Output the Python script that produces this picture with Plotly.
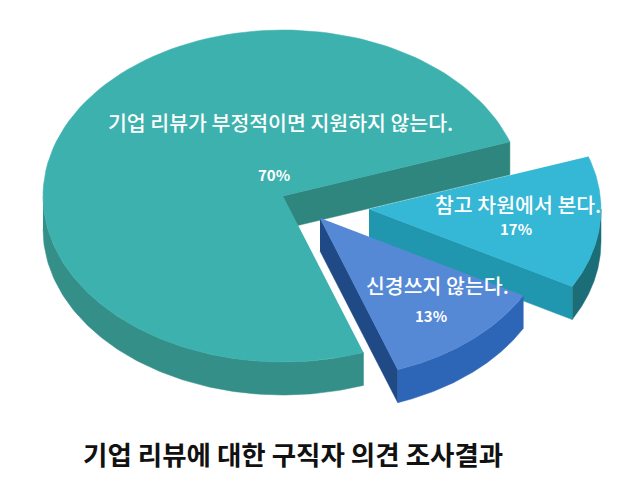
import numpy as np
import plotly.graph_objects as go

# Survey data
categories = ['기업 리뷰가 부정적이면 지원하지 않는다.', '참고 차원에서 본다.', '신경쓰지 않는다.']
values = [70, 17, 13]
title_text = '기업 리뷰에 대한 구직자 의견 조사결과'

# Look of the fake 3D pie, in screen pixels
start_angle = 24.5    # where the 17% slice begins, degrees
squeeze = 0.23        # the far right side of the tilted disc looks narrower
depth = 33

top_colors = ['#3DB1AE', '#35B7D6', '#5589D6']
rim_colors = ['#348F89', '#1B6E78', '#2E66B7']
cut_colors = ['#2F867F', '#2097AE', '#1F4A85']
centers = [(283, 196), (369, 209), (320, 218)]
radii = [(240, 166), (232, 161), (232, 161)]
label_pos = [(280, 122), (518, 204), (437, 285)]
pct_pos = [(274, 174), (516, 228), (431, 315)]


def tilt(theta):
    return theta - squeeze * np.sin(theta)


def arc(center, radius, a0, a1, drop=0):
    t = tilt(np.radians(np.linspace(a0, a1, 120)))
    return center[0] + radius[0] * np.cos(t), center[1] - radius[1] * np.sin(t) + drop


def add_poly(fig, x, y, color):
    fig.add_trace(go.Scatter(x=list(x), y=list(y), mode='lines', fill='toself',
                             fillcolor=color, line=dict(color=color, width=0.5),
                             hoverinfo='skip', showlegend=False))


# Slice sweeps from the values: main slice runs counter-clockwise from start_angle,
# the two exploded ones go clockwise from there
sweeps = [v / sum(values) * 360 for v in values]
spans = [
    (start_angle, start_angle + sweeps[0]),
    (start_angle - sweeps[1], start_angle),
    (start_angle - sweeps[1] - sweeps[2], start_angle - sweeps[1]),
]

fig = go.Figure()

for i in range(len(values)):
    a0, a1 = spans[i]
    c = centers[i]
    r = radii[i]

    # cut face along the clockwise edge
    ex, ey = arc(c, r, a0, a0)
    add_poly(fig, [c[0], ex[0], ex[0], c[0]],
             [c[1], ey[0], ey[0] + depth, c[1] + depth], cut_colors[i])

    # outer rim, only the part on the front half of the disc shows
    if a0 < 0:
        lo, hi = a0, min(a1, 0)
    else:
        lo, hi = 180, a1
    tx, ty = arc(c, r, lo, hi)
    bx, by = arc(c, r, lo, hi, depth)
    add_poly(fig, np.r_[tx, bx[::-1]], np.r_[ty, by[::-1]], rim_colors[i])

    # top face
    fx, fy = arc(c, r, a0, a1)
    add_poly(fig, np.r_[c[0], fx], np.r_[c[1], fy], top_colors[i])

    fig.add_annotation(x=label_pos[i][0], y=label_pos[i][1], text=categories[i],
                       showarrow=False,
                       font=dict(family='Noto Sans CJK KR', size=20.5, color='white', weight=500))
    fig.add_annotation(x=pct_pos[i][0], y=pct_pos[i][1], text=f'<b>{values[i]}%</b>',
                       showarrow=False,
                       font=dict(family='Noto Sans CJK KR', size=15, color='white'))

fig.add_annotation(x=293, y=453, text=title_text, showarrow=False,
                   font=dict(family='Noto Sans CJK KR', size=26.5, color='#111111', weight=700))

# the page body keeps its 8px margin, so the axes start at 8 to stay on reference pixels
fig.update_layout(width=632, height=491, margin=dict(l=0, r=0, t=0, b=0),
                  paper_bgcolor='white', plot_bgcolor='white', showlegend=False,
                  xaxis=dict(range=[8, 640], visible=False, fixedrange=True),
                  yaxis=dict(range=[499, 8], visible=False, fixedrange=True))

fig.write_html("out.html", config=dict(displayModeBar=False))
